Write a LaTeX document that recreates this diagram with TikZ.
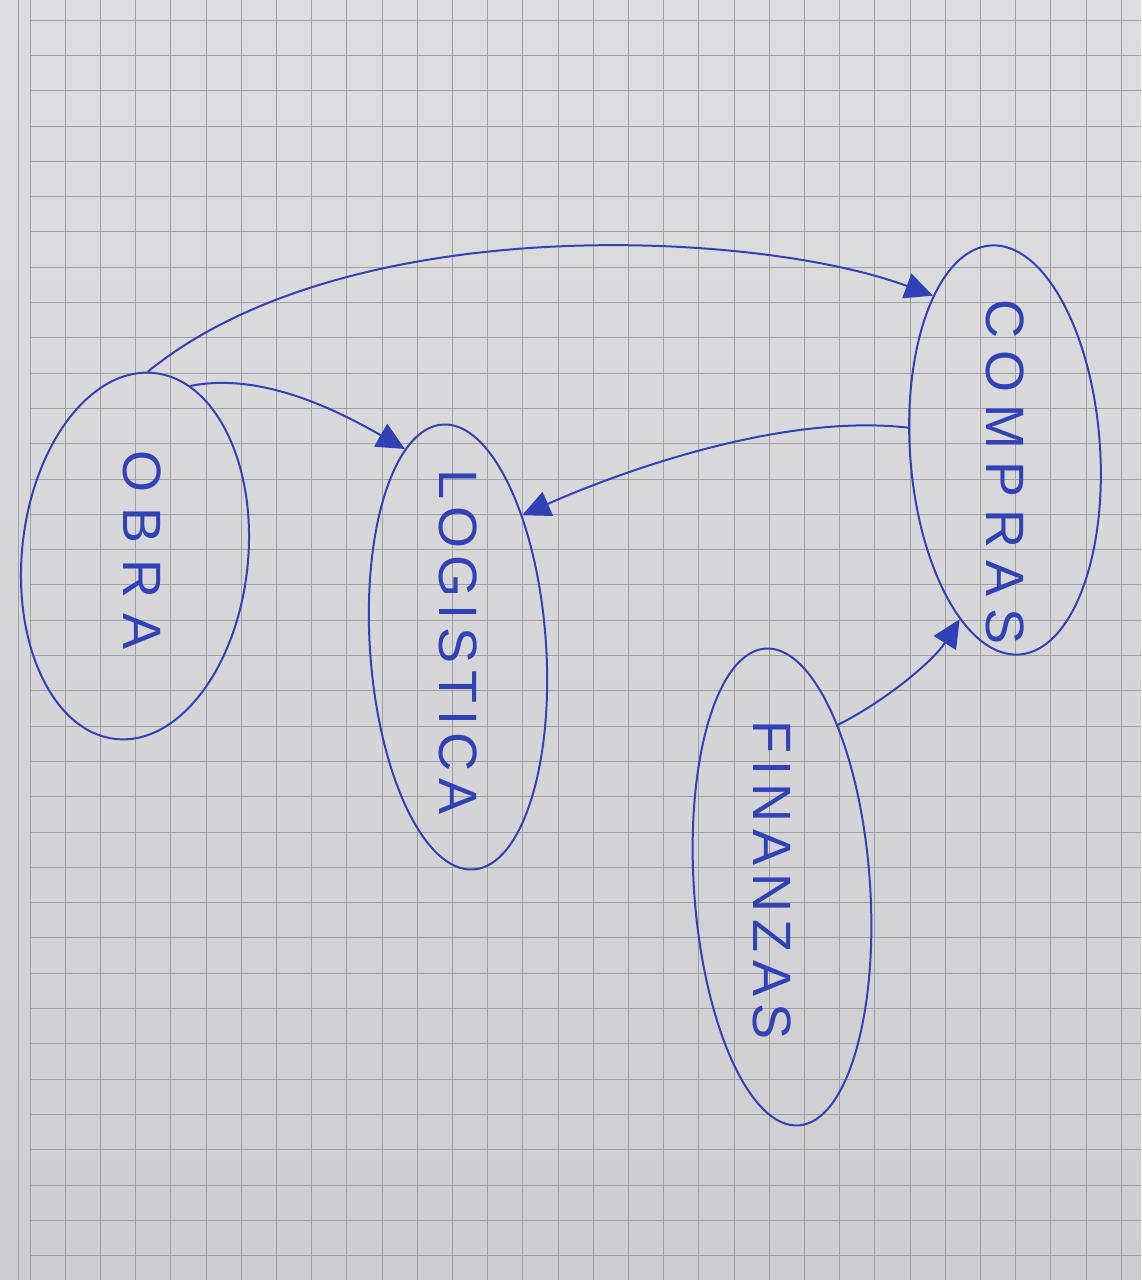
\documentclass[tikz,border=0pt]{standalone}
\usepackage{fontspec}
\setmainfont{Liberation Sans}
\usetikzlibrary{arrows.meta,shapes.geometric}
\definecolor{ink}{RGB}{48,66,182}
\definecolor{paperA}{RGB}{222,222,224}
\definecolor{paperB}{RGB}{206,206,209}
\definecolor{gridc}{RGB}{160,160,164}
\newcommand{\spreadtext}[2]{\makebox[#1][s]{#2}}
\begin{document}
\begin{tikzpicture}[x=1pt,y=-1pt,
  bubble/.style={ellipse, draw=ink, line width=2pt, inner sep=0pt},
  word/.style={text=ink, rotate=-90, inner sep=0pt, font=\fontsize{54}{54}\selectfont},
  link/.style={draw=ink, line width=2pt, -{Triangle[length=28pt,width=26pt]}}
]
\shade[top color=paperA, bottom color=paperB] (0,0) rectangle (1141,1280);
\useasboundingbox (0,0) rectangle (1141,1280);
% grid paper
\foreach \i in {0,...,31} \draw[gridc, line width=0.8pt] ({30+35.2*\i},0) -- ({30+35.2*\i},1280);
\foreach \j in {0,...,36} \draw[gridc, line width=0.8pt] (30,{20+35.3*\j}) -- (1141,{20+35.3*\j});
\draw[gridc, line width=0.8pt] (18,0) -- (18,1280);
% ellipses
\node[bubble, minimum width=226pt, minimum height=368pt, rotate=-6] (obra) at (135,556) {};
\node[bubble, minimum width=176pt, minimum height=446pt, rotate=4] (log) at (458,647) {};
\node[bubble, minimum width=190pt, minimum height=410pt, rotate=4] (comp) at (1005,450) {};
\node[bubble, minimum width=176pt, minimum height=478pt, rotate=4] (fin) at (782,887) {};
% labels
\node[word] (obraT) at (142,550) {\spreadtext{200pt}{O\hfill B\hfill R\hfill A}};
\node[word] (logT) at (458,642) {\spreadtext{345pt}{L\hfill O\hfill G\hfill I\hfill S\hfill T\hfill I\hfill C\hfill A}};
\node[word] (compT) at (1005,472) {\spreadtext{345pt}{C\hfill O\hfill M\hfill P\hfill R\hfill A\hfill S}};
\node[word] (finT) at (772,880) {\spreadtext{320pt}{F\hfill I\hfill N\hfill A\hfill N\hfill Z\hfill A\hfill S}};
% connectors
\draw[link] (obra.92) .. controls +(200,-163) and +(-175,-65) .. (comp.111);
\draw[link] (obra.78) .. controls +(70,-14) and +(-70,-40) .. (log.101);
\draw[link] (comp.163) .. controls +(-130,-15) and +(90,-40) .. (log.60);
\draw[link] (fin.67) .. controls +(50,-25) and +(-25,40) .. (comp.251);
\end{tikzpicture}
\end{document}
